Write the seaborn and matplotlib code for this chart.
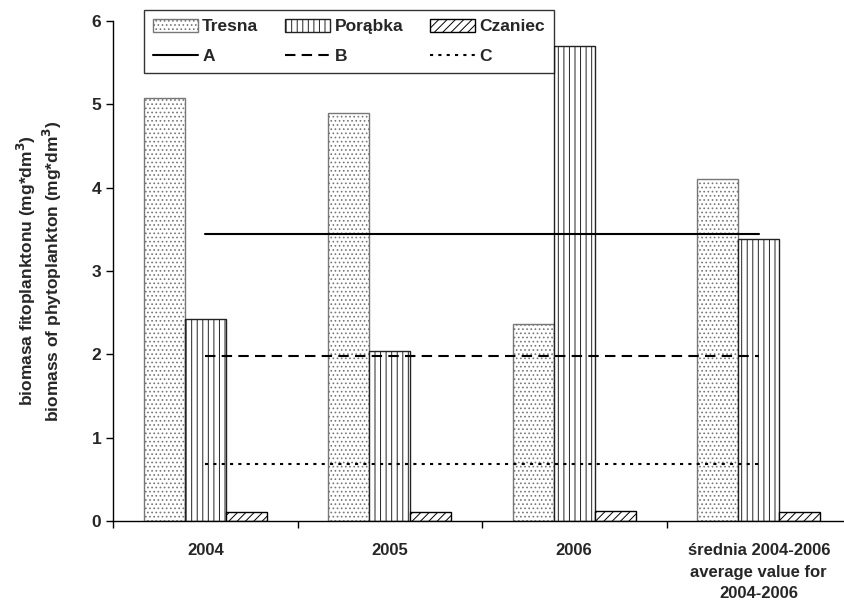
import numpy as np
import pandas as pd
from matplotlib import pyplot as plt
import seaborn as sns

# Data
years = ['2004', '2005', '2006', 'średnia 2004-2006\naverage value for\n2004-2006']
sites = ['Tresna', 'Porąbka', 'Czaniec']
tresna = [5.08, 4.90, 2.36, 4.10]
porabka = [2.43, 2.04, 5.70, 3.39]
czaniec = [0.11, 0.11, 0.12, 0.11]
line_A = [3.44, 3.44, 3.44, 3.44]
line_B = [1.98, 1.98, 1.98, 1.98]
line_C = [0.68, 0.68, 0.68, 0.68]

df = pd.DataFrame({
    'rok': years * 3,
    'stanowisko': np.repeat(sites, len(years)),
    'biomasa': tresna + porabka + czaniec,
})

sns.set_style("ticks")
plt.rcParams['font.family'] = ['Liberation Sans', 'DejaVu Sans']
plt.rcParams['font.weight'] = 'bold'
plt.rcParams['hatch.linewidth'] = 0.7

fs = 12.5
fig = plt.figure(figsize=(8.44, 6.05), dpi=100)
ax = fig.add_axes([113 / 844, 84 / 605, 738 / 844, 500 / 605])

sns.barplot(data=df, x='rok', y='biomasa', hue='stanowisko', hue_order=sites,
            order=years, width=0.667, gap=0, errorbar=None,
            palette=['white'] * 3, legend=False, ax=ax)

hatches = ['....', '|||', '////']
edges = ['#777777', '#222222', 'black']
for cont, h, ec in zip(ax.containers, hatches, edges):
    for bar in cont:
        bar.set_hatch(h)
        bar.set_edgecolor(ec)
        bar.set_linewidth(1.0)

# reference lines A, B, C over the category centres
pos = np.arange(len(years))
lA, = ax.plot(pos, line_A, color='black', lw=1.5, ls='-')
lB, = ax.plot(pos, line_B, color='black', lw=1.5, ls=(0, (5, 3)))
lC, = ax.plot(pos, line_C, color='black', lw=1.5, ls=(0, (1.5, 2.5)))

ax.set_xlim(-0.5, 3.5)
ax.set_ylim(0, 6)
ax.set_yticks(range(7))
ax.set_xticks(pos)
ax.set_xticklabels(years, fontsize=12, fontweight='bold', linespacing=1.55)
ax.set_xticks(pos - 0.5, minor=True)
ax.tick_params(axis='x', which='major', length=0, pad=16)
ax.tick_params(axis='x', which='minor', length=5, direction='out', width=1, color='black')
ax.tick_params(axis='y', length=5, direction='out', width=1, color='black', labelsize=fs)
for t in ax.get_yticklabels():
    t.set_fontweight('bold')
ax.set_xlabel('')
ax.set_ylabel('biomasa fitoplanktonu (mg*dm$^{3}$)\nbiomass of phytoplankton (mg*dm$^{3}$)',
              fontsize=fs, fontweight='bold', labelpad=20, linespacing=1.15)
for s in ['top', 'right']:
    ax.spines[s].set_visible(False)
for s in ['left', 'bottom']:
    ax.spines[s].set_color('black')
    ax.spines[s].set_linewidth(1.0)

bars = [c.patches[0] for c in ax.containers]
handles = [bars[0], lA, bars[1], lB, bars[2], lC]
labels = ['Tresna', 'A', 'Porąbka', 'B', 'Czaniec', 'C']
leg = ax.legend(handles, labels, ncol=3, loc='upper left',
                bbox_to_anchor=(144 / 844, 1 - 10 / 605), bbox_transform=fig.transFigure,
                borderaxespad=0, frameon=True, fancybox=False, edgecolor='black',
                fontsize=fs, handlelength=2.6, handleheight=0.8, handletextpad=0.25,
                columnspacing=1.55, labelspacing=0.8, borderpad=0.5)
leg.get_frame().set_linewidth(1.0)
for t in leg.get_texts():
    t.set_fontweight('bold')

plt.savefig('out.png', dpi=100)
